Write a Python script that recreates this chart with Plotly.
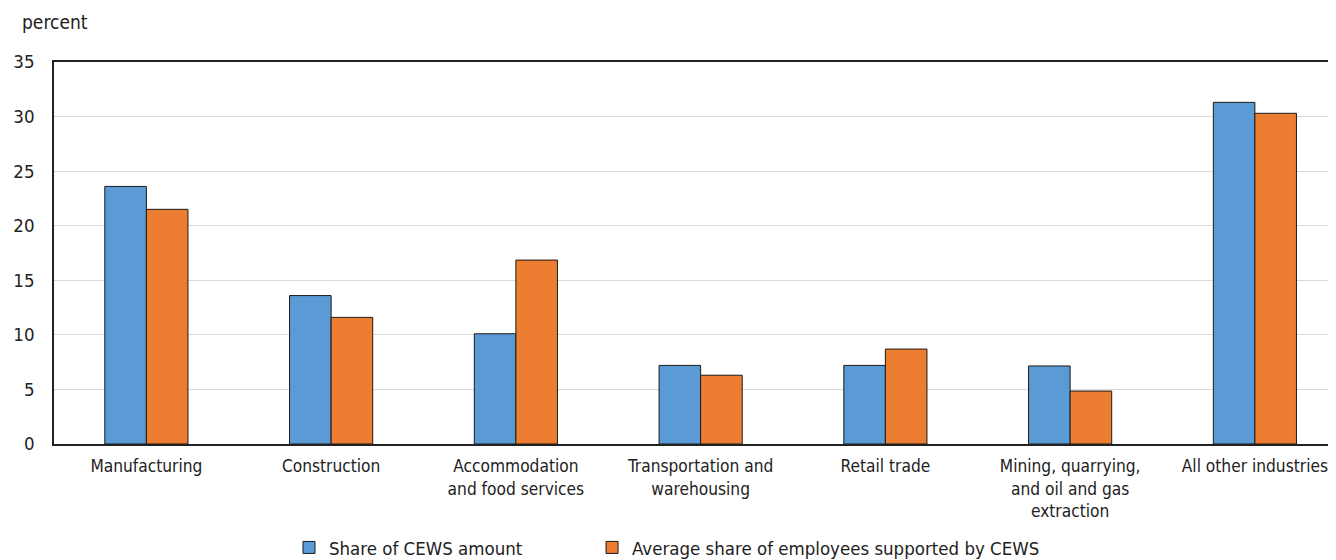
import plotly.graph_objects as go

categories = ["Manufacturing", "Construction", "Accommodation<br>and food services",
              "Transportation and<br>warehousing", "Retail trade",
              "Mining, quarrying,<br>and oil and gas<br>extraction", "All other industries"]
share_cews = [23.6, 13.6, 10.1, 7.2, 7.2, 7.15, 31.3]
share_employees = [21.5, 11.6, 16.85, 6.3, 8.7, 4.85, 30.3]
y_ticks = [0, 5, 10, 15, 20, 25, 30, 35]

FONT = "DejaVu Sans Condensed, Liberation Sans Narrow, sans-serif"
FS = 18.5

fig = go.Figure()
fig.add_trace(go.Bar(x=categories, y=share_cews, name="Share of CEWS amount", legend="legend",
                     marker=dict(color="#5B9BD5", line=dict(color="#1a1a1a", width=1))))
fig.add_trace(go.Bar(x=categories, y=share_employees, name="Average share of employees supported by CEWS",
                     legend="legend2",
                     marker=dict(color="#ED7D31", line=dict(color="#1a1a1a", width=1))))

fig.update_layout(
    width=1328, height=552,
    margin=dict(l=46, r=0, t=54, b=116, autoexpand=False),
    plot_bgcolor="white", paper_bgcolor="white",
    barmode="group", bargap=0.55, bargroupgap=0,
    font=dict(family=FONT, size=FS, color="#222222"),
    showlegend=True,
    legend=dict(orientation="h", x=0.1833, xanchor="left", y=-0.272, yanchor="middle",
                font=dict(size=FS), itemwidth=30, bgcolor="rgba(0,0,0,0)"),
    legend2=dict(orientation="h", x=0.4197, xanchor="left", y=-0.272, yanchor="middle",
                 font=dict(size=FS), itemwidth=30, bgcolor="rgba(0,0,0,0)"),
    xaxis=dict(showline=True, linecolor="#222222", linewidth=1.5, mirror=True,
               ticks="", tickfont=dict(size=17.2), range=[-0.5, 6.439],
               ticklabelstandoff=6),
    yaxis=dict(range=[0, 35], tickvals=y_ticks, showgrid=True, gridcolor="#d9d9d9",
               showline=True, linecolor="#222222", linewidth=1.5, mirror=False,
               ticks="", ticklabelstandoff=14, zeroline=False, tickfont=dict(size=FS)),
    annotations=[dict(text="percent", xref="paper", yref="paper", x=-0.0265, y=1.1047,
                      xanchor="left", yanchor="middle", showarrow=False,
                      font=dict(size=19, color="#222222"))],
)

fig.write_html("out.html")
